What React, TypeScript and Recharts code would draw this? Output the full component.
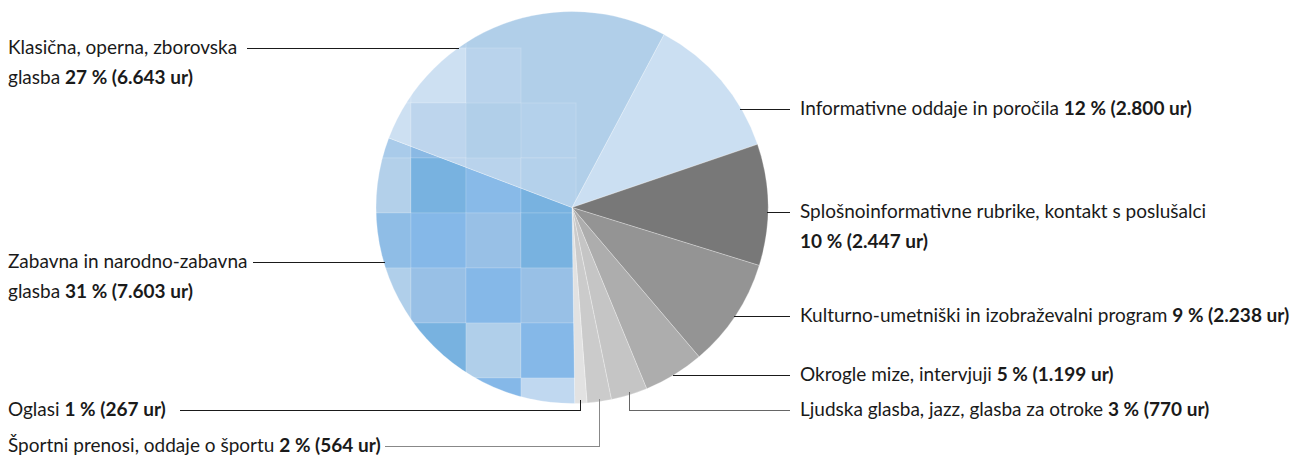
import React from 'react';
import { PieChart, Pie, Cell } from 'recharts';

// programme share by hours, order = clockwise from the top-right slice
const categories = [
    'Informativne oddaje in poročila',
    'Splošnoinformativne rubrike, kontakt s poslušalci',
    'Kulturno-umetniški in izobraževalni program',
    'Okrogle mize, intervjuji',
    'Ljudska glasba, jazz, glasba za otroke',
    'Športni prenosi, oddaje o športu',
    'Oglasi',
    'Zabavna in narodno-zabavna glasba',
    'Klasična, operna, zborovska glasba'
];
const percents = [12, 10, 9, 5, 3, 2, 1, 31, 27];
const hours = [2800, 2447, 2238, 1199, 770, 564, 267, 7603, 6643];

const data = categories.map((name, i) => ({ name, value: percents[i], hours: hours[i] }));

const W = 1290;
const H = 457;
const CX = 572;
const CY = 207.5;
const R = 196;
const CELL = 55;
const FONT = 'Lato, "Open Sans", sans-serif';

const fills = ['#cbdff2', '#787878', '#949494', '#adadad', '#c5c5c5', '#cbcbcb', '#e2e2e2', 'url(#patZab)', 'url(#patKlas)'];

// patchwork texture for the two music slices (rows of 55px squares)
const klasGrid = [
    [null, '#b5d1ea', null, null],
    ['#cde0f2', '#cde0f2', '#b9d3ec', null],
    ['#cde0f2', '#bdd5ed', null, '#b4d1eb'],
    ['#b3d0ea', '#bdd5ed', '#b9d3ec', '#b4d1eb']
];
const zabGrid = [
    [null, null, null, null],
    [null, null, null, null],
    ['#a9cbea', '#8ab9e4', null, null],
    ['#b3d0ea', '#78b2e0', '#88bae8', '#78b2e0'],
    ['#8fbde6', '#85b8e8', '#98c0e6', '#78b2e0'],
    ['#b0cfea', '#98c0e6', '#85b8e8', '#98c0e6'],
    [null, '#78b2e0', '#b0cfea', '#85b8e8'],
    [null, null, '#85b8e8', '#c0d8f0']
];

// label placement: side, baseline of first line, words on line 1, leader style
const labelLayout = [
    { side: 'right', y: 115 },
    { side: 'right', y: 218, breakWords: 6 },
    { side: 'right', y: 322 },
    { side: 'right', y: 381 },
    { side: 'right', y: 416, elbow: true, stroke: '#666' },
    { side: 'left', y: 452, elbow: true, stroke: '#888', lineFrom: 385 },
    { side: 'left', y: 416, elbow: true, lineFrom: 180 },
    { side: 'left', y: 268, breakWords: 3, lineFrom: 253 },
    { side: 'left', y: 54, breakWords: 3, lineFrom: 247 }
];

const LINE_GAP = 30;
const RIGHT_X = 800;
const LEFT_X = 8;
const RAD = Math.PI / 180;

const fmt = (n: number) => String(n).replace(/\B(?=(\d{3})+(?!\d))/g, '.');

const Patch = ({ id, base, grid }: { id: string; base: string; grid: (string | null)[][] }) => (
    <pattern id={id} patternUnits="userSpaceOnUse" x={CX - 216} y={CY - 214.5} width={CELL * 8} height={CELL * 8}>
        <rect width={CELL * 8} height={CELL * 8} fill={base} />
        {grid.map((row, r) => row.map((c, k) => c ? (
            <rect key={`${r}-${k}`} x={k * CELL} y={r * CELL} width={CELL} height={CELL} fill={c} stroke="#fff" strokeOpacity={0.15} />
        ) : null))}
    </pattern>
);

const renderLabel = (props: any) => {
    const { cx, cy, outerRadius, midAngle, index } = props;
    const lay: any = labelLayout[index];
    const d = data[index];
    const value = `${d.value} % (${fmt(d.hours)} ur)`;
    const words = d.name.split(' ');
    const lineY = lay.y - 6;
    const right = lay.side === 'right';
    const stroke = lay.stroke || '#1a1a1a';
    const endX = right ? RIGHT_X - 10 : lay.lineFrom;

    let path: string;
    if (lay.elbow) {
        const px = cx + outerRadius * Math.cos(-midAngle * RAD);
        const py = cy + outerRadius * Math.sin(-midAngle * RAD);
        path = `M${px},${py - 3}V${lineY}H${endX}`;
    } else {
        const dy = lineY - cy;
        const dx = Math.sqrt(Math.max(outerRadius * outerRadius - dy * dy, 0));
        const ax = right ? cx + dx - 1 : cx - dx + 1;
        path = `M${ax},${lineY}H${endX}`;
    }

    const x = right ? RIGHT_X : LEFT_X;
    let first: React.ReactNode;
    let second: React.ReactNode = null;
    if (lay.breakWords) {
        const l1 = words.slice(0, lay.breakWords).join(' ');
        const rest = words.slice(lay.breakWords).join(' ');
        first = <tspan x={x} y={lay.y}>{l1}</tspan>;
        second = (
            <tspan x={x} y={lay.y + LINE_GAP}>
                {rest ? `${rest} ` : ''}<tspan fontWeight={700}>{value}</tspan>
            </tspan>
        );
    } else {
        first = (
            <tspan x={x} y={lay.y}>
                {`${d.name} `}<tspan fontWeight={700}>{value}</tspan>
            </tspan>
        );
    }

    return (
        <g key={`lbl-${index}`}>
            <path d={path} fill="none" stroke={stroke} strokeWidth={1} shapeRendering="crispEdges" />
            <text fontFamily={FONT} fontSize={19} fill="#1a1a1a" textAnchor="start">
                {first}
                {second}
            </text>
        </g>
    );
};

const App = () => {
    return (
        <div style={{ position: 'absolute', left: 0, top: 0, width: W, height: H, background: '#fff' }}>
            <svg width={0} height={0} style={{ position: 'absolute' }}>
                <defs>
                    <Patch id="patKlas" base="#b1cfe9" grid={klasGrid} />
                    <Patch id="patZab" base="#8fbde6" grid={zabGrid} />
                </defs>
            </svg>
            <PieChart width={W} height={H} margin={{ top: 0, right: 0, bottom: 0, left: 0 }}>
                <Pie
                    data={data}
                    dataKey="value"
                    cx={CX}
                    cy={CY}
                    outerRadius={R}
                    innerRadius={0}
                    startAngle={62}
                    endAngle={-298}
                    stroke="#ffffff"
                    strokeOpacity={0.35}
                    strokeWidth={0.8}
                    label={renderLabel}
                    labelLine={false}
                    isAnimationActive={false}
                >
                    {data.map((entry, i) => (
                        <Cell key={`cell-${i}`} fill={fills[i]} />
                    ))}
                </Pie>
            </PieChart>
        </div>
    );
};

export default App;
